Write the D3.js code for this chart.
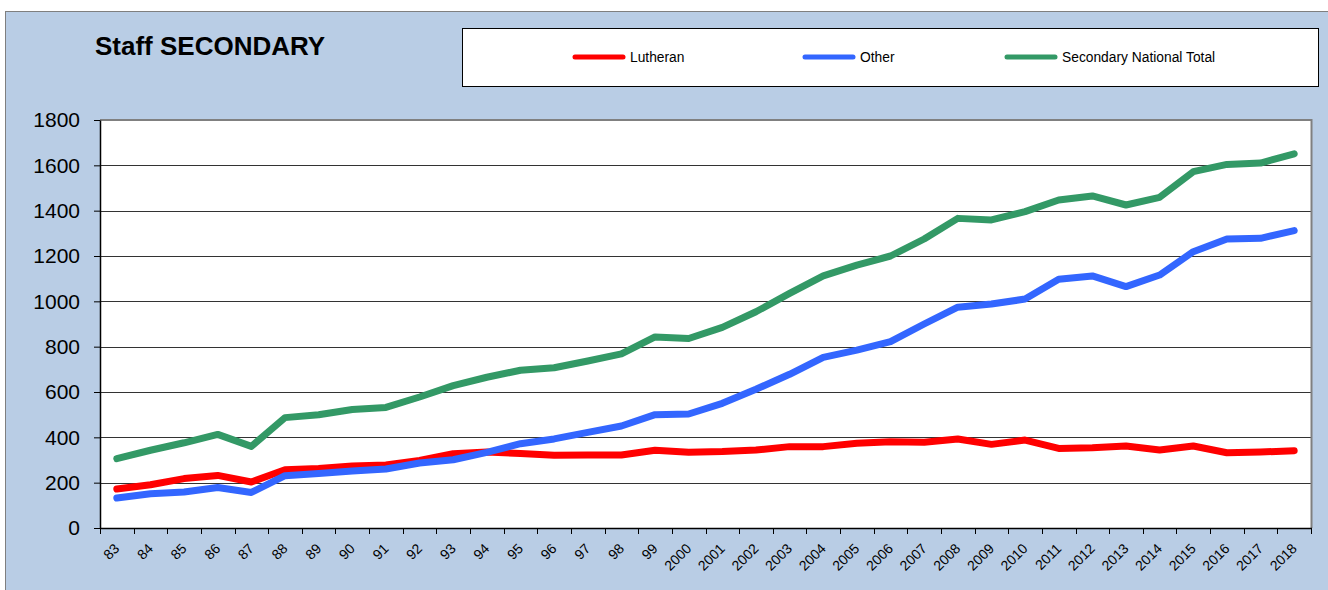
<!DOCTYPE html>
<html><head><meta charset="utf-8">
<script src="https://cdn.jsdelivr.net/npm/d3@7"></script>
<style>body{margin:0;background:#fff;}svg{display:block;font-family:"Liberation Sans",Arial,sans-serif;}</style>
</head><body><svg id="c" width="1328" height="590"></svg>
<script>
const categories = ["83","84","85","86","87","88","89","90","91","92","93","94","95","96","97","98","99","2000","2001","2002","2003","2004","2005","2006","2007","2008","2009","2010","2011","2012","2013","2014","2015","2016","2017","2018"];
const lutheran = [172,191,218,232,203,257,262,274,278,298,328,335,329,321,322,322,343,334,337,344,359,359,374,381,378,393,369,388,351,354,362,344,362,332,335,341];
const other = [132,151,159,179,157,231,240,251,260,287,301,334,372,393,422,450,500,503,550,612,678,753,785,822,900,974,988,1010,1097,1112,1065,1116,1219,1275,1278,1312];
const total = [306,343,376,413,360,487,500,523,532,578,628,665,696,707,737,768,843,836,885,954,1035,1112,1160,1200,1275,1366,1359,1396,1447,1465,1425,1459,1572,1604,1610,1651];
const yTicks = [0,200,400,600,800,1000,1200,1400,1600,1800];
const seriesNames = ["Lutheran","Other","Secondary National Total"];
const seriesColors = ["#ff0000","#3366ff","#339966"];

const svg = d3.select("#c");
svg.append("rect").attr("x",5.5).attr("y",11.5).attr("width",1340).attr("height",600)
  .attr("fill","#b9cde5").attr("stroke","#7f7f7f").attr("stroke-width",1);

const L=100, R=1311, T=120, B=528;
const x = d3.scaleBand().domain(categories).range([L,R]);
const y = d3.scaleLinear().domain([0,1800]).range([B,T]);

svg.append("rect").attr("x",L).attr("y",T).attr("width",R-L).attr("height",B-T).attr("fill","#fff");

// gridlines
svg.append("g").selectAll("line").data(yTicks.filter(d=>d>0 && d<1800)).join("line")
  .attr("x1",L).attr("x2",R).attr("y1",d=>Math.round(y(d))+0.5).attr("y2",d=>Math.round(y(d))+0.5)
  .attr("stroke","#000").attr("stroke-width",1).attr("stroke-opacity",0.8);

// plot border right/top
svg.append("line").attr("x1",L).attr("x2",R+1).attr("y1",T).attr("y2",T).attr("stroke","#808080").attr("stroke-width",2);
svg.append("line").attr("x1",R+0.5).attr("x2",R+0.5).attr("y1",T-1).attr("y2",B).attr("stroke","#808080").attr("stroke-width",2);

// y axis
const yAxis = d3.axisLeft(y).tickValues(yTicks).tickFormat(d3.format("d")).tickSize(6).tickSizeOuter(0).tickPadding(14);
const gy = svg.append("g").attr("transform",`translate(${L},0)`).call(yAxis);
gy.select(".domain").attr("stroke","#000").attr("stroke-width",1.5);
gy.selectAll(".tick line").attr("stroke","#000");
gy.selectAll("text").attr("font-size","21px").attr("fill","#000").attr("font-family","Liberation Sans, Arial, sans-serif");

// x axis
const xAxis = d3.axisBottom(x).tickSize(0).tickSizeOuter(0);
const gx = svg.append("g").attr("transform",`translate(0,${B})`).call(xAxis);
gx.select(".domain").remove();
svg.append("line").attr("x1",L).attr("x2",R+1).attr("y1",B+0.5).attr("y2",B+0.5).attr("stroke","#000").attr("stroke-width",1.5);
svg.append("g").selectAll("line").data(categories.concat(["_end"])).join("line")
  .attr("x1",(d,i)=>Math.round(L+i*x.step())+0.5).attr("x2",(d,i)=>Math.round(L+i*x.step())+0.5)
  .attr("y1",B).attr("y2",B+6).attr("stroke","#000").attr("stroke-width",1);
gx.selectAll(".tick text")
  .attr("font-size","14px").attr("fill","#000").attr("font-family","Liberation Sans, Arial, sans-serif")
  .attr("text-anchor","end").attr("dy",null).attr("y",0)
  .attr("transform","translate(3.5,21.5) rotate(-45)");

// lines
const line = d3.line().x((d,i)=>x(categories[i])+x.bandwidth()/2).y(d=>y(d));
[lutheran, other, total].forEach((s,k)=>{
  svg.append("path").datum(s).attr("d",line).attr("fill","none")
    .attr("stroke",seriesColors[k]).attr("stroke-width",7)
    .attr("stroke-linecap","round").attr("stroke-linejoin","round");
});

// title
svg.append("text").attr("x",95).attr("y",55).attr("font-size","26px").attr("font-weight","bold")
  .attr("fill","#000").text("Staff SECONDARY");

// legend
svg.append("rect").attr("x",462.5).attr("y",28.5).attr("width",856).attr("height",58)
  .attr("fill","#fff").attr("stroke","#000").attr("stroke-width",1);
const legX = [573, 803, 1005];
seriesNames.forEach((n,k)=>{
  svg.append("line").attr("x1",legX[k]+2).attr("x2",legX[k]+50).attr("y1",57).attr("y2",57)
    .attr("stroke",seriesColors[k]).attr("stroke-width",5).attr("stroke-linecap","round");
  svg.append("text").attr("x",legX[k]+57).attr("y",62).attr("font-size","13.8px").attr("fill","#000").text(n);
});
</script></body></html>
